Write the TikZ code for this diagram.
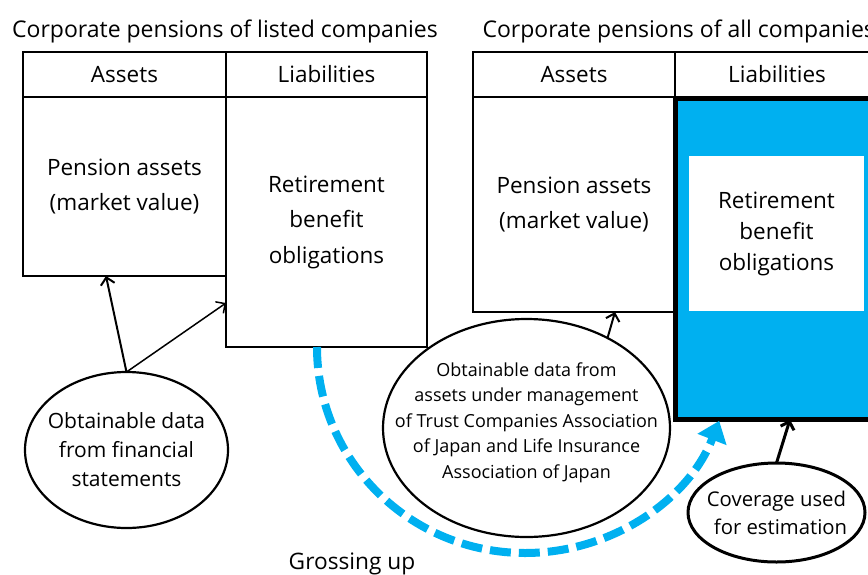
\documentclass[tikz,border=0pt]{standalone}
\usepackage{fontspec}
\setmainfont{Open Sans}
\usetikzlibrary{arrows.meta,shapes.geometric}
\definecolor{skyblue}{HTML}{00B0F0}

\begin{document}
\begin{tikzpicture}[x=1pt,y=-1pt,
  box/.style={draw,line width=2pt,rectangle,anchor=north west,outer sep=0pt,
    inner sep=0pt,align=center,font=\fontsize{22.5}{35.5}\selectfont},
  bubble/.style={draw,ellipse,line width=2.2pt,outer sep=0pt,inner xsep=-50pt,
    inner ysep=-40pt,align=center},
  link/.style={line width=2pt,-{Straight Barb[length=7pt,width=14pt]}},
  grossing/.style={draw=skyblue,line width=8pt,dash pattern=on 21pt off 8pt,
    -{Triangle[length=20pt,width=30pt]}},
  heading/.style={font=\fontsize{23}{27}\selectfont},
]
\useasboundingbox (0,0) rectangle (868,574);

% ---- listed companies
\node[heading,anchor=base] (lt) at (225,37) {Corporate pensions of listed companies};
\node[box,minimum width=203pt,minimum height=45pt] (lhA) at (23,52) {Assets};
\node[box,minimum width=201pt,minimum height=45pt] (lhL) at (226,52) {Liabilities};
\node[box,minimum width=203pt,minimum height=179pt] (lbA) at (23,97) {Pension assets\\(market value)};
\node[box,minimum width=201pt,minimum height=250pt] (lbL) at (226,97) {Retirement\\benefit\\obligations};

% ---- all companies
\node[heading,anchor=base west] (rt) at (479,37) {Corporate pensions of all companies};
\node[box,minimum width=202pt,minimum height=45pt] (rhA) at (473,52) {Assets};
\node[box,minimum width=204pt,minimum height=45pt] (rhL) at (675,52) {Liabilities};
\node[box,minimum width=202pt,minimum height=215pt] (rbA) at (473,97) {Pension assets\\(market value)};
\node[box,fill=skyblue,line width=5pt,minimum width=229pt,minimum height=321pt] (rbL) at (675.5,98.5) {};
\node[box,draw=none,fill=white,minimum width=175pt,minimum height=155pt,
  font=\fontsize{22.5}{31}\selectfont] (rbLin) at (689,156) {Retirement\\benefit\\obligations};

% ---- data sources
\node[bubble,minimum width=203pt,minimum height=156pt,font=\fontsize{21}{29}\selectfont]
  (le) at (126.5,450) {Obtainable data\\from financial\\statements};
\node[bubble,minimum width=287pt,minimum height=218pt,text depth=15pt,font=\fontsize{18}{25.5}\selectfont]
  (be) at (526.5,428) {Obtainable data from\\assets under management\\of Trust Companies Association\\of Japan and Life Insurance\\Association of Japan};
\node[bubble,line width=3pt,minimum width=177pt,minimum height=99pt,font=\fontsize{20.3}{28}\selectfont]
  (ce) at (776.5,512.5) {Coverage used\\\hspace*{8pt}for estimation};

\draw[link] (le.north) -- ([xshift=-18.5pt]lbA.south);
\draw[link,line width=1.5pt] (le.north) -- ([yshift=44pt]lbL.south west);
\draw[link] (be.48.5) -- ([xshift=41pt]rbA.south);
\draw[link,line width=3pt] (ce.north) -- (rbL.south);

% ---- grossing up
\draw[grossing] ([xshift=-9.5pt]lbL.south) arc[start angle=180,end angle=339,x radius=208pt,y radius=206pt];
\node[font=\fontsize{22.7}{27}\selectfont,anchor=base] (gu) at (352,569) {Grossing up};
\end{tikzpicture}
\end{document}
